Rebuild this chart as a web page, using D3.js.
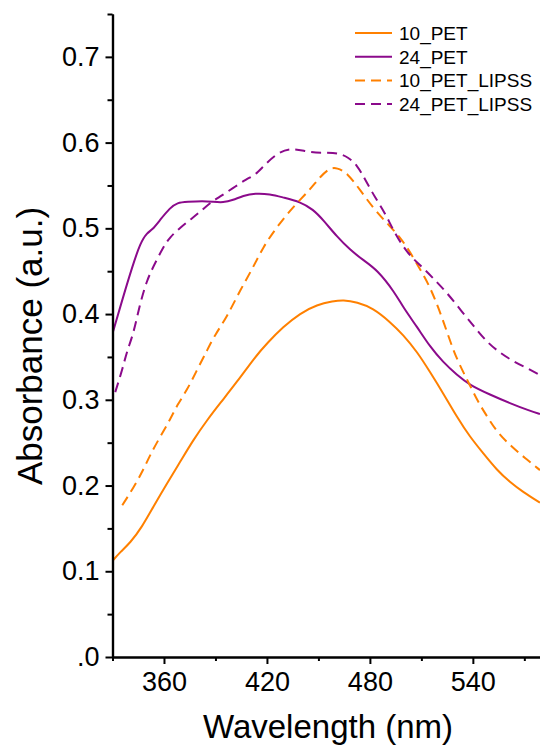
<!DOCTYPE html>
<html>
<head>
<meta charset="utf-8">
<script src="https://cdn.jsdelivr.net/npm/d3@7"></script>
<style>
  html, body { margin: 0; padding: 0; background: #fff; overflow: hidden; }
  svg { display: block; }
</style>
</head>
<body>
<svg id="chart" width="540" height="747"></svg>
<script>
// ---- Data ----
const seriesNames = ["10_PET", "24_PET", "10_PET_LIPSS", "24_PET_LIPSS"];

const wl_10_PET = [330.4, 334.5, 340.3, 347.3, 353.7, 361.9, 369.4, 377.0, 385.2, 392.7, 402.6, 413.1, 420.1, 429.4, 439.4, 449.2, 458.5, 464.4, 472.5, 481.8, 491.7, 499.3, 507.5, 515.0, 522.6, 530.7, 538.3, 545.9, 554.0, 561.6, 569.2, 579.1];
const abs_10_PET = [0.113, 0.1225, 0.133, 0.152, 0.175, 0.203, 0.2275, 0.253, 0.2765, 0.296, 0.321, 0.350, 0.366, 0.385, 0.401, 0.411, 0.415, 0.4166, 0.414, 0.407, 0.391, 0.376, 0.356, 0.3326, 0.308, 0.280, 0.2567, 0.238, 0.218, 0.204, 0.1925, 0.180];

const wl_24_PET = [330.4, 336.2, 341.5, 346.2, 350.2, 353.1, 357.8, 363.6, 367.7, 373.5, 382.8, 388.6, 394.5, 400.3, 406.1, 413.1, 421.8, 429.4, 439.4, 446.9, 452.7, 460.9, 468.4, 476.0, 484.1, 494.6, 499.3, 507.5, 515.0, 522.6, 530.7, 538.3, 550.0, 561.6, 573.3, 579.1];
const abs_24_PET = [0.380, 0.420, 0.455, 0.483, 0.495, 0.498, 0.510, 0.524, 0.530, 0.531, 0.532, 0.531, 0.530, 0.533, 0.538, 0.541, 0.540, 0.536, 0.531, 0.522, 0.510, 0.490, 0.475, 0.463, 0.452, 0.425, 0.408, 0.385, 0.362, 0.344, 0.329, 0.317, 0.306, 0.296, 0.287, 0.2835];

const wl_10_PET_LIPSS = [335.7, 342.1, 347.9, 352.0, 357.8, 363.6, 367.7, 373.5, 379.3, 385.2, 389.8, 396.8, 404.4, 411.9, 417.7, 425.9, 435.2, 445.1, 450.9, 456.7, 460.8, 466.7, 474.2, 481.8, 489.9, 497.5, 503.4, 510.4, 515.0, 522.0, 528.4, 533.7, 538.3, 543.0, 548.8, 554.6, 562.8, 570.4, 579.1];
const abs_10_PET_LIPSS = [0.177, 0.197, 0.218, 0.236, 0.257, 0.277, 0.294, 0.3115, 0.335, 0.358, 0.376, 0.397, 0.428, 0.454, 0.478, 0.502, 0.525, 0.545, 0.560, 0.5706, 0.5706, 0.565, 0.545, 0.524, 0.506, 0.490, 0.4726, 0.448, 0.432, 0.397, 0.358, 0.335, 0.317, 0.2975, 0.279, 0.261, 0.245, 0.232, 0.218];

const wl_24_PET_LIPSS = [331.6, 335.7, 338.6, 342.1, 346.1, 350.2, 353.7, 359.5, 363.6, 369.4, 375.2, 381.0, 386.9, 392.7, 400.3, 408.4, 413.1, 417.7, 425.9, 434.6, 444.0, 452.7, 461.4, 467.3, 472.5, 477.2, 483.0, 488.8, 493.5, 501.6, 510.4, 516.8, 524.9, 533.7, 541.3, 548.8, 555.8, 563.4, 571.5, 579.1];
const abs_24_PET_LIPSS = [0.309, 0.335, 0.358, 0.376, 0.413, 0.440, 0.455, 0.478, 0.490, 0.5006, 0.510, 0.519, 0.530, 0.537, 0.547, 0.558, 0.562, 0.572, 0.588, 0.594, 0.589, 0.588, 0.588, 0.583, 0.574, 0.557, 0.536, 0.518, 0.498, 0.471, 0.455, 0.442, 0.425, 0.4026, 0.384, 0.366, 0.355, 0.345, 0.337, 0.329];

const xTickValues = [360, 420, 480, 540];
const xMinorValues = [330, 390, 450, 510, 570];
const yTickValues = [0, 0.1, 0.2, 0.3, 0.4, 0.5, 0.6, 0.7];
const yTickLabels = [".0", "0.1", "0.2", "0.3", "0.4", "0.5", "0.6", "0.7"];
const yMinorValues = [0.05, 0.15, 0.25, 0.35, 0.45, 0.55, 0.65, 0.75];

const xTitle = "Wavelength (nm)";
const yTitle = "Absorbance (a.u.)";

// ---- Styling ----
const ORANGE = "#FF8000";
const PURPLE = "#8B0A8B";
const FONT = "'Liberation Sans', Arial, sans-serif";

const series = [
  { name: seriesNames[0], x: wl_10_PET, y: abs_10_PET, color: ORANGE, dash: null },
  { name: seriesNames[1], x: wl_24_PET, y: abs_24_PET, color: PURPLE, dash: null },
  { name: seriesNames[2], x: wl_10_PET_LIPSS, y: abs_10_PET_LIPSS, color: ORANGE, dash: "10,6" },
  { name: seriesNames[3], x: wl_24_PET_LIPSS, y: abs_24_PET_LIPSS, color: PURPLE, dash: "10,6" }
];

const svg = d3.select("#chart");

const x = d3.scaleLinear().domain([330, 580]).range([112.5, 541.5]);
const y = d3.scaleLinear().domain([0, 0.75]).range([657, 14]);

// Lines (smoothed through the read points)
const line = d3.line()
  .x(d => x(d[0]))
  .y(d => y(d[1]))
  .curve(d3.curveBasis);

const plot = svg.append("g");
series.forEach(s => {
  const pts = s.x.map((v, i) => [v, s.y[i]]);
  plot.append("path")
    .datum(pts)
    .attr("fill", "none")
    .attr("stroke", s.color)
    .attr("stroke-width", 2)
    .attr("stroke-dasharray", s.dash)
    .attr("d", line);
});

// Axes
function styleAxis(g) {
  g.select(".domain").attr("stroke", "#000").attr("stroke-width", 2.2);
  g.selectAll(".tick line").attr("stroke", "#000").attr("stroke-width", 2);
  g.selectAll("text").attr("font-family", FONT).attr("fill", "#000");
}

// Y minor
svg.append("g")
  .attr("transform", `translate(${x(330)},0)`)
  .call(d3.axisLeft(y).tickValues(yMinorValues).tickSize(5).tickSizeOuter(0).tickFormat(""))
  .call(g => { styleAxis(g); });

// Y major
svg.append("g")
  .attr("transform", `translate(${x(330)},0)`)
  .call(d3.axisLeft(y).tickValues(yTickValues).tickSize(7).tickSizeOuter(0).tickPadding(6)
    .tickFormat((d, i) => yTickLabels[i]))
  .call(g => { styleAxis(g); g.selectAll("text").attr("font-size", 27); });

// X minor
svg.append("g")
  .attr("transform", `translate(0,${y(0)})`)
  .call(d3.axisBottom(x).tickValues(xMinorValues).tickSize(4).tickSizeOuter(0).tickFormat(""))
  .call(g => { styleAxis(g); });

// X major
svg.append("g")
  .attr("transform", `translate(0,${y(0)})`)
  .call(d3.axisBottom(x).tickValues(xTickValues).tickSize(7).tickSizeOuter(0).tickPadding(8)
    .tickFormat(d3.format("d")))
  .call(g => { styleAxis(g); g.selectAll("text").attr("font-size", 27); });

// Axis titles
svg.append("text")
  .attr("x", 328)
  .attr("y", 738)
  .attr("text-anchor", "middle")
  .attr("font-family", FONT)
  .attr("font-size", 33)
  .attr("fill", "#000")
  .text(xTitle);

svg.append("text")
  .attr("transform", `translate(42,346) rotate(-90)`)
  .attr("text-anchor", "middle")
  .attr("font-family", FONT)
  .attr("font-size", 35)
  .attr("fill", "#000")
  .text(yTitle);

// Legend
const legend = svg.append("g");
series.forEach((s, i) => {
  const cy = 33 + i * 23.7;
  legend.append("line")
    .attr("x1", 355).attr("x2", 392)
    .attr("y1", cy).attr("y2", cy)
    .attr("stroke", s.color)
    .attr("stroke-width", 2)
    .attr("stroke-dasharray", s.dash ? "10,6" : null);
  legend.append("text")
    .attr("x", 399)
    .attr("y", cy)
    .attr("dy", "0.36em")
    .attr("font-family", FONT)
    .attr("font-size", 19)
    .attr("fill", "#000")
    .text(s.name);
});
</script>
</body>
</html>
